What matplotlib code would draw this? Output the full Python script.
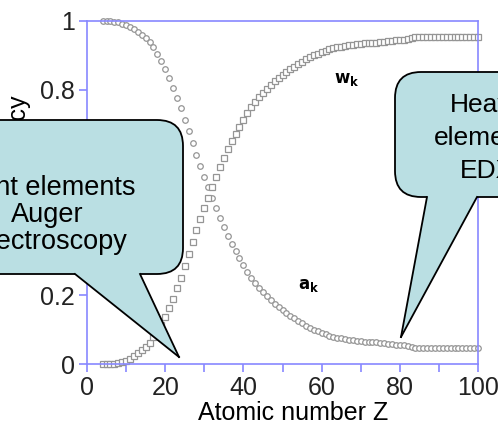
import matplotlib
matplotlib.use("Agg")
import matplotlib.pyplot as plt
from matplotlib.patches import FancyBboxPatch, Polygon
from matplotlib.lines import Line2D
from matplotlib.transforms import IdentityTransform

plt.rcParams['font.family'] = ['Liberation Sans', 'DejaVu Sans']

# atomic number and the two yields
z_values = list(range(4, 101))
w_k = [0.0, 0.0, 0.0, 0.0,
       0.002, 0.005, 0.010, 0.016, 0.023, 0.031, 0.040, 0.050, 0.062, 0.078,
       0.094, 0.113, 0.137, 0.163, 0.190, 0.222, 0.252, 0.287, 0.322, 0.355,
       0.390, 0.422, 0.455, 0.485, 0.515, 0.545, 0.573, 0.601, 0.627, 0.651,
       0.672, 0.692, 0.712, 0.731, 0.749, 0.764, 0.778, 0.790, 0.802, 0.814,
       0.825, 0.835, 0.844, 0.852, 0.860, 0.867, 0.874, 0.881, 0.888, 0.894,
       0.900, 0.905, 0.909, 0.913, 0.917, 0.920, 0.923, 0.925, 0.927, 0.929,
       0.930, 0.932, 0.933, 0.935, 0.935, 0.936, 0.937, 0.938, 0.940, 0.942,
       0.943, 0.944, 0.945, 0.946, 0.948, 0.950,
       0.953, 0.953, 0.953, 0.953, 0.953, 0.953, 0.953, 0.953, 0.953,
       0.953, 0.953, 0.953, 0.953, 0.953, 0.953, 0.953, 0.953]
a_k = [1.0, 1.0, 0.999, 0.998,
       0.996, 0.992, 0.987, 0.982, 0.976, 0.969, 0.960, 0.950, 0.939, 0.923,
       0.905, 0.884, 0.860, 0.834, 0.806, 0.776, 0.745, 0.712, 0.678, 0.645,
       0.610, 0.578, 0.545, 0.515, 0.485, 0.455, 0.427, 0.399, 0.373, 0.349,
       0.328, 0.308, 0.288, 0.269, 0.251, 0.236, 0.222, 0.210, 0.198, 0.186,
       0.175, 0.165, 0.156, 0.148, 0.140, 0.133, 0.126, 0.119, 0.112, 0.106,
       0.100, 0.095, 0.091, 0.087, 0.083, 0.080, 0.077, 0.075, 0.073, 0.071,
       0.070, 0.068, 0.067, 0.065, 0.065, 0.064, 0.063, 0.062, 0.060, 0.058,
       0.057, 0.056, 0.055, 0.054, 0.052, 0.050,
       0.047, 0.047, 0.047, 0.047, 0.047, 0.047, 0.047, 0.047, 0.047,
       0.047, 0.047, 0.047, 0.047, 0.047, 0.047, 0.047, 0.047]

W, H = 498, 424
fig = plt.figure(figsize=(W / 100, H / 100), dpi=100)
ax = fig.add_axes([87 / W, 1 - 364 / H, (478 - 87) / W, (364 - 21) / H])

grey = '#959595'
ax.plot(z_values, a_k, 'o', ms=4, mfc='white', mec=grey, mew=0.9, clip_on=False)
ax.plot(z_values, w_k, 's', ms=3.8, mfc='white', mec=grey, mew=0.9, clip_on=False)

ax.set_xlim(0, 100)
ax.set_ylim(0, 1)
ax.set_xticks([0, 20, 40, 60, 80, 100])
ax.set_xticks([10, 30, 50, 70, 90], minor=True)
ax.set_yticks([0, 0.2, 0.4, 0.6, 0.8, 1])
ax.set_yticklabels(['0', '0.2', '0.4', '0.6', '0.8', '1'])

blue = '#8888ff'
for s in ax.spines.values():
    s.set_color(blue)
    s.set_linewidth(1.2)
ax.tick_params(which='both', color=blue, width=1.2, labelsize=18, labelcolor='#222222')
ax.tick_params(axis='x', which='both', length=5.5, pad=3)
ax.tick_params(axis='y', length=6, pad=3)

# curve labels
fig.text(334 / W, 1 - 80 / H, r'$\mathbf{w_k}$', fontsize=12, ha='left', va='center')
fig.text(298 / W, 1 - 285 / H, r'$\mathbf{a_k}$', fontsize=12, ha='left', va='center')

fig.text(293 / W, 1 - 413 / H, 'Atomic number Z', fontsize=18, ha='center', va='center')
fig.text(17 / W, 1 - 94 / H, 'Efficiency', fontsize=18, rotation=90, ha='center', va='top')

# callouts, drawn in pixel coordinates
fill = '#badfe3'
ident = IdentityTransform()


def callout(x0, y0, x1, y1, base_l, base_r, tip):
    box = FancyBboxPatch((x0, H - y1), x1 - x0, y1 - y0,
                         boxstyle='round,pad=0,rounding_size=26',
                         fc=fill, ec='black', lw=1.3, transform=ident, zorder=5)
    fig.add_artist(box)
    yb = y1
    tail = Polygon([(base_l, H - yb + 3), (base_l, H - yb), (tip[0], H - tip[1]),
                    (base_r, H - yb), (base_r, H - yb + 3)],
                   closed=True, fc=fill, ec='none', transform=ident, zorder=6)
    fig.add_artist(tail)
    for bx in (base_l, base_r):
        fig.add_artist(Line2D([bx, tip[0]], [H - yb, H - tip[1]], color='black',
                              lw=1.3, transform=ident, zorder=7))


callout(-60, 120, 183, 274, 75, 140, (179, 357))
callout(395, 72, 560, 197, 427, 477, (401, 337))

fig.text(47 / W, 1 - 215 / H, 'Light elements\nAuger\nspectroscopy', fontsize=19.5,
         ha='center', va='center', linespacing=1.05, zorder=8)
fig.text(487 / W, 1 - 138 / H, 'Heavy\nelements\nEDX', fontsize=19,
         ha='center', va='center', linespacing=1.45, zorder=8)

fig.savefig('out.png', dpi=100)
